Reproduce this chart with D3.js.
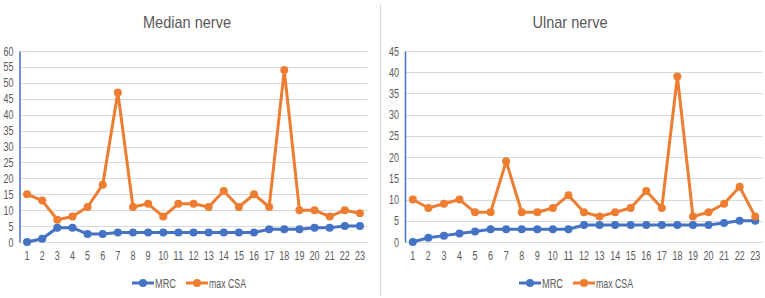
<!DOCTYPE html>
<html>
  <head>
    <script src="https://cdn.jsdelivr.net/npm/d3@7/dist/d3.min.js" charset="utf-8"></script>
    <style>
      body { margin: 0; background: #fff; }
      text { font-family: "Liberation Sans", sans-serif; fill: #595959; }
    </style>
  </head>
  <body>
    <svg id="chart" width="765" height="298"></svg>
    <script>
      var cases = d3.range(1, 24).map(String);
      var seriesNames = ["MRC", "max CSA"];
      var colors = ["#4472C4", "#ED7D31"];

      var medianMRC = [0, 1, 4.5, 4.5, 2.5, 2.5, 3, 3, 3, 3, 3, 3, 3, 3, 3, 3, 4, 4, 4, 4.5, 4.5, 5, 5];
      var medianCSA = [15, 13, 7, 8, 11, 18, 47, 11, 12, 8, 12, 12, 11, 16, 11, 15, 11, 54, 10, 10, 8, 10, 9];
      var ulnarMRC = [0, 1, 1.5, 2, 2.5, 3, 3, 3, 3, 3, 3, 4, 4, 4, 4, 4, 4, 4, 4, 4, 4.5, 5, 5];
      var ulnarCSA = [10, 8, 9, 10, 7, 7, 19, 7, 7, 8, 11, 7, 6, 7, 8, 12, 8, 39, 6, 7, 9, 13, 6];

      var medianTicks = d3.range(0, 61, 5);
      var ulnarTicks = d3.range(0, 46, 5);

      var svg = d3.select("#chart");

      // squeeze text to look like the narrow font of the original
      function narrow(sel, perChar) {
        sel.attr("textLength", function () { return this.textContent.length * perChar; })
          .attr("lengthAdjust", "spacingAndGlyphs");
      }

      svg.append("line")
        .attr("x1", 380.5).attr("x2", 380.5).attr("y1", 4).attr("y2", 296)
        .attr("stroke", "#d9d9d9");

      function panel(title, titleX, titleW, left, right, ticks, mrc, csa, legendX) {
        var g = svg.append("g");
        var x = d3.scaleBand().domain(cases).range([left, right]);
        var y = d3.scaleLinear().domain([0, d3.max(ticks)]).range([242, 51]);

        g.append("text").text(title)
          .attr("x", titleX).attr("y", 28)
          .attr("text-anchor", "middle").attr("font-size", 17)
          .attr("textLength", titleW).attr("lengthAdjust", "spacingAndGlyphs");

        g.append("g").selectAll("line").data(ticks).enter().append("line")
          .attr("x1", left).attr("x2", right)
          .attr("y1", d => Math.round(y(d)) + 0.5).attr("y2", d => Math.round(y(d)) + 0.5)
          .attr("stroke", "#d9d9d9").attr("stroke-width", 1.2);

        var ya = g.append("g").attr("transform", `translate(${left},0)`)
          .call(d3.axisLeft(y).tickValues(ticks).tickSize(0).tickPadding(6));
        ya.select(".domain").attr("stroke", "#4472C4").attr("stroke-width", 1.5);
        ya.selectAll("text").attr("font-size", 12.5).style("font-family", "Liberation Sans, sans-serif").attr("fill", "#595959").call(narrow, 5);

        var xa = g.append("g").attr("transform", `translate(0,242)`)
          .call(d3.axisBottom(x).tickSize(0).tickPadding(9));
        xa.select(".domain").remove();
        xa.selectAll("text").attr("font-size", 12.5).style("font-family", "Liberation Sans, sans-serif").attr("fill", "#595959").call(narrow, 5);

        var line = d3.line().x((d, i) => x(cases[i]) + x.bandwidth() / 2).y(d => y(d));

        [mrc, csa].forEach(function (vals, s) {
          g.append("path").datum(vals)
            .attr("d", line).attr("fill", "none")
            .attr("stroke", colors[s]).attr("stroke-width", 3).attr("stroke-linejoin", "round");
          g.append("g").selectAll("circle").data(vals).enter().append("circle")
            .attr("cx", (d, i) => x(cases[i]) + x.bandwidth() / 2)
            .attr("cy", d => y(d))
            .attr("r", 4).attr("fill", colors[s]);
        });

        var lx = [legendX, legendX + 54];
        var lw = [21, 37];
        seriesNames.forEach(function (name, s) {
          var lg = g.append("g").attr("transform", `translate(${lx[s]},283)`);
          lg.append("line").attr("x1", 0).attr("x2", 22).attr("stroke", colors[s]).attr("stroke-width", 3);
          lg.append("circle").attr("cx", 11).attr("r", 4).attr("fill", colors[s]);
          lg.append("text").text(name).attr("x", 23).attr("y", 4.5).attr("font-size", 12.5)
            .attr("textLength", lw[s]).attr("lengthAdjust", "spacingAndGlyphs");
        });
      }

      panel("Median nerve", 187, 88, 19.5, 367.5, medianTicks, medianMRC, medianCSA, 132);
      panel("Ulnar nerve", 570, 75, 405, 763, ulnarTicks, ulnarMRC, ulnarCSA, 519);
    </script>
  </body>
</html>
